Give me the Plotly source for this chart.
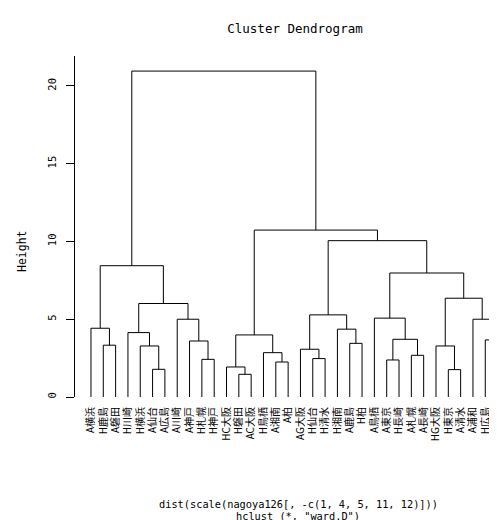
import plotly.graph_objects as go

# ---- data ----
labels = ["A横浜", "H鹿島", "A磐田", "H川崎", "H横浜", "A仙台", "A広島", "A川崎", "A神戸",
          "H札幌", "H神戸", "HC大阪", "H磐田", "AC大阪", "H鳥栖", "A湘南", "A柏", "AG大阪",
          "H仙台", "H清水", "H湘南", "A鹿島", "H柏", "A鳥栖", "A東京", "H長崎", "A札幌",
          "A長崎", "HG大阪", "H東京", "A清水", "A浦和", "H広島", "H浦和"]

# R-style merge table: negative = leaf (1-based, display order), positive = earlier merge (1-based)
merge_left = [-13, -30, -6, -12, -16, -25, -10, -19, -27, -15, -18, -5, -29, -2, -22, -9, -33,
              6, 4, -4, -21, -1, -8, -32, -24, 11, 20, 13, 25, 22, 26, 19, 30]
merge_right = [-14, -31, -7, 1, -17, -26, -11, -20, -28, 5, 8, 3, 2, -3, -23, 7, -34,
               9, 10, 12, 15, 14, 16, 17, 18, 21, 23, 24, 28, 27, 29, 31, 32]
merge_height = [1.46, 1.76, 1.78, 1.93, 2.25, 2.38, 2.42, 2.47, 2.68, 2.85, 3.07, 3.28, 3.28,
                3.33, 3.45, 3.60, 3.67, 3.71, 3.99, 4.14, 4.36, 4.42, 5.00, 5.00, 5.07, 5.28,
                6.01, 6.35, 7.97, 8.44, 10.05, 10.73, 20.95]

y_tick_vals = [0, 5, 10, 15, 20]
title_text = "Cluster Dendrogram"
ylab_text = "Height"
sub_line1 = "dist(scale(nagoya126[, -c(1, 4, 5, 11, 12)]))"
sub_line2 = "hclust (*, \"ward.D\")"

# ---- build dendrogram segments ----
pos = {}

def node(ref):
    if ref < 0:
        return (-ref - 1, 0.0)
    return pos[ref]

xs, ys = [], []
for k, (a, b, h) in enumerate(zip(merge_left, merge_right, merge_height), start=1):
    xa, ha = node(a)
    xb, hb = node(b)
    xs += [xa, xa, xb, xb, None]
    ys += [ha, h, h, hb, None]
    pos[k] = ((xa + xb) / 2.0, h)

W, H = 497, 520
L, R, T, B = 67, 0, 48, 131
PW, PH = W - L - R, H - T - B

def px_x(p):
    return (p - L) / PW

def px_y(p):
    return (H - B - p) / PH

fig = go.Figure()
fig.add_trace(go.Scatter(x=xs, y=ys, mode="lines",
                         line=dict(color="black", width=1),
                         cliponaxis=False,
                         hoverinfo="skip", showlegend=False))

latin = "DejaVu Sans Mono"
fig.update_layout(
    width=W, height=H,
    margin=dict(l=L, r=R, t=T, b=B),
    plot_bgcolor="white", paper_bgcolor="white",
    title=dict(text=title_text, x=287 / W, xref="container", xanchor="center",
               y=1 - 21 / H, yref="container", yanchor="middle",
               font=dict(family=latin, size=12.5, color="black")),
    xaxis=dict(range=[-1.296, 33.60], tickmode="array",
               tickvals=list(range(len(labels))), ticktext=labels,
               tickangle=-90, ticks="", showline=False, showgrid=False, zeroline=False,
               ticklabelstandoff=7, ticklabeloverflow="allow",
               tickfont=dict(family="Noto Sans CJK JP", size=10, color="black")),
    yaxis=dict(range=[0, 21.92], tickmode="array", tickvals=y_tick_vals,
               ticktext=[str(v) for v in y_tick_vals],
               showline=True, linecolor="black", linewidth=1,
               ticks="outside", ticklen=8, tickcolor="black", tickwidth=1,
               tickangle=-90, showgrid=False, zeroline=False, ticklabelstandoff=6,
               tickfont=dict(family=latin, size=10.5, color="black")),
    annotations=[
        dict(text=ylab_text, x=px_x(14), y=px_y(243), xref="paper", yref="paper",
             textangle=-90, showarrow=False, xanchor="center", yanchor="middle",
             font=dict(family=latin, size=11.5, color="black")),
        dict(text=sub_line1, x=px_x(290), y=px_y(495.5), xref="paper", yref="paper",
             showarrow=False, xanchor="center", yanchor="middle",
             font=dict(family=latin, size=10.3, color="black")),
        dict(text=sub_line2, x=px_x(290), y=px_y(507.5), xref="paper", yref="paper",
             showarrow=False, xanchor="center", yanchor="middle", borderpad=0,
             font=dict(family=latin, size=10.3, color="black")),
    ],
)

fig.write_html("out.html")
